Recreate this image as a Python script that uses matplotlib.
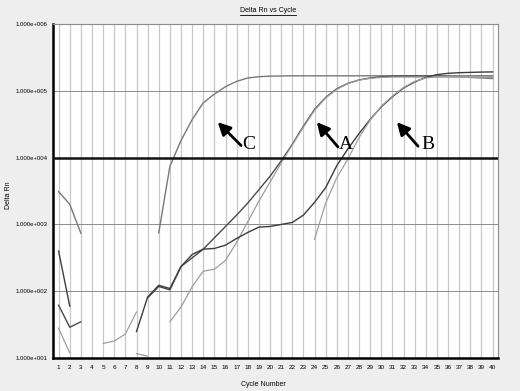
import numpy as np
import matplotlib
matplotlib.use('Agg')
import matplotlib.pyplot as plt
from matplotlib.lines import Line2D

nan = np.nan

# ---------------------------------------------------------------
# DATA (Delta Rn per cycle, nan = not plotted)
# ---------------------------------------------------------------
cycles = list(range(1, 41))

curve_c = [3100, 2000, 740, nan, nan, nan, nan, nan, nan, 750,
           7400, 18000, 37000, 66000, 89000, 115000, 138000, 155000, 162000, 165000,
           166000, 167000, 167000, 167000, 167000, 167000, 167000, 167000, 167000, 167000,
           167000, 167000, 167000, 166000, 165000, 163000, 161000, 158000, 155000, 152000]

curve_a1 = [62, 29, 35, nan, nan, nan, nan, nan, 80, 118,
            105, 235, 316, 427, 631, 933, 1380, 2090, 3310, 5250,
            8910, 15800, 29500, 52500, 79400, 107000, 129000, 145000, 155000, 162000,
            165000, 166000, 166000, 166000, 166000, 166000, 166000, 166000, 166000, 166000]

curve_a2 = [28, 12, nan, nan, nan, nan, nan, 11.7, 10.7, nan,
            35, 58, 117, 200, 214, 290, 540, 1100, 2240, 4300,
            8300, 15500, 28500, 51000, 78000, 105000, 128000, 144000, 153000, 158000,
            160000, 160000, 160000, 160000, 160000, 160000, 159000, 159000, 158000, 158000]

curve_b1 = [400, 60, nan, nan, nan, nan, nan, 25, 82, 123,
            110, 235, 355, 427, 437, 490, 617, 759, 912, 933,
            1000, 1070, 1380, 2140, 3550, 7590, 13500, 22900, 37200, 57500,
            81300, 110000, 135000, 158000, 174000, 182000, 186000, 188000, 190000, 191000]

curve_b2 = [nan, nan, nan, nan, 16.6, 18, 23, 49, nan, nan,
            nan, nan, nan, nan, nan, nan, nan, nan, nan, nan,
            nan, nan, nan, 600, 2090, 5010, 9550, 20000, 36300, 58900,
            83200, 112000, 138000, 155000, 162000, 163000, 163000, 163000, 162000, 162000]

threshold = 1.0e4
ytick_vals = [1e1, 1e2, 1e3, 1e4, 1e5, 1e6]
ytick_labels = ['1.000e+001', '1.000e+002', '1.000e+003', '1.000e+004', '1.000e+005', '1.000e+006']

# arrow labels: (text, head x, head y, tail x, tail y, text x, text y)
labels = [('C', 15.3, 10**4.53, 17.4, 10**4.18, 18.1, 10**4.19),
          ('A', 24.2, 10**4.53, 26.1, 10**4.16, 26.8, 10**4.19),
          ('B', 31.4, 10**4.53, 33.3, 10**4.17, 34.2, 10**4.19)]

# ---------------------------------------------------------------
# PLOT
# ---------------------------------------------------------------
fig = plt.figure(figsize=(5.2, 3.91), dpi=100, facecolor='#eeeeee')
ax = fig.add_axes([0.102, 0.084, 0.856, 0.855])
ax.set_facecolor('white')

ax.set_yscale('log')
ax.set_xlim(0.5, 40.5)
ax.set_ylim(10, 1e6)

# grid
for c in cycles:
    ax.axvline(c, color='#c8c8c8', lw=0.9, zorder=0)
for v in ytick_vals[1:-1]:
    ax.axhline(v, color='#8c8c8c', lw=0.7, zorder=0)

series = [(curve_c, '#787878', 1.0),
          (curve_a1, '#4a4a4a', 1.0),
          (curve_a2, '#9c9c9c', 0.9),
          (curve_b1, '#3c3c3c', 1.0),
          (curve_b2, '#a0a0a0', 0.9)]
for vals, col, lw in series:
    ax.plot(cycles, vals, color=col, lw=lw, zorder=2)

ax.axhline(threshold, color='#111111', lw=1.8, zorder=3)

for txt, hx, hy, tx, ty, lx, ly in labels:
    ax.annotate('', xy=(hx, hy), xytext=(tx, ty),
                arrowprops=dict(arrowstyle='-|>,head_width=0.38,head_length=0.75',
                                lw=2, color='black', shrinkA=0, shrinkB=0), zorder=4)
    ax.text(lx, ly, txt, fontsize=14, family='Liberation Serif',
            ha='center', va='center', zorder=4)

ax.set_xticks(cycles)
ax.set_xticklabels([str(c) for c in cycles], fontsize=4.6, family='Liberation Sans')
ax.set_yticks(ytick_vals)
ax.set_yticklabels(ytick_labels, fontsize=4.3, family='Liberation Sans')
ax.yaxis.set_minor_locator(matplotlib.ticker.NullLocator())
ax.tick_params(axis='x', length=0, pad=5)
ax.tick_params(axis='y', length=0, pad=4)

for s in ['left', 'bottom']:
    ax.spines[s].set_color('black')
    ax.spines[s].set_linewidth(1.8)
for s in ['top', 'right']:
    ax.spines[s].set_color('#8c8c8c')
    ax.spines[s].set_linewidth(0.8)

# title (underlined), axis labels
title = fig.text(268 / 520, 1 - 11 / 391, 'Delta Rn vs Cycle', fontsize=5,
                 family='Liberation Sans', ha='center', va='center')
fig.canvas.draw()
bb = title.get_window_extent().transformed(fig.transFigure.inverted())
fig.add_artist(Line2D([bb.x0, bb.x1], [bb.y0 - 0.002, bb.y0 - 0.002], color='black', lw=0.6))
fig.text(9 / 520, 1 - 195 / 391, 'Delta Rn', fontsize=5, family='Liberation Sans',
         rotation=90, ha='center', va='center')
fig.text(263 / 520, 1 - 385 / 391, 'Cycle Number', fontsize=5, family='Liberation Sans',
         ha='center', va='center')

plt.savefig('out.png', dpi=100, facecolor=fig.get_facecolor())
